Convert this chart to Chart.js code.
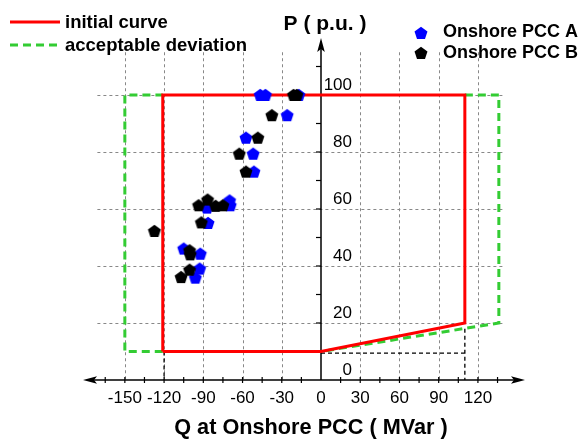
<!DOCTYPE html>
<html>
<head>
<meta charset="utf-8">
<script src="https://cdn.jsdelivr.net/npm/chart.js@4"></script>
<style>
  body { margin: 0; background: #fff; }
  #wrap { width: 584px; height: 439px; position: relative; }
</style>
</head>
<body>
<div id="wrap"><canvas id="myChart"></canvas></div>
<script>
// Onshore PCC A (blue)
const pccA_Q = [-46.5, -42.5, -17, -25.9, -57.4, -51.9, -51.3, -69.9, -69.4, -87.2, -86.4, -105, -92.3, -92.8, -96.1];
const pccA_P = [100, 100, 100, 92.9, 85, 79.4, 73.1, 63, 61.3, 60.5, 55.1, 46.1, 44.3, 39.1, 35.9];
// Onshore PCC B (black)
const pccB_Q = [-21, -18.5, -37.6, -48.3, -62.5, -57.4, -93.6, -86.7, -80.6, -75, -91.5, -127.4, -100.5, -100, -100.5, -107];
const pccB_P = [100, 100, 92.9, 85, 79.4, 73.1, 61.3, 63.3, 61.1, 61.3, 55.3, 52.3, 45.5, 44.1, 38.7, 36.1];

// curva inicial (roja)
const initialQ = [-121, -121, 110, 110, 0, -121];
const initialP = [10, 100, 100, 20, 10, 10];
// desviación aceptable (verde), dos tramos
const devLeftQ = [-121, -150, -150, -121];
const devLeftP = [10, 10, 100, 100];
const devRightQ = [110, 136, 136, 0];
const devRightP = [100, 100, 20, 10];
// líneas auxiliares negras (null = corte)
const guideQ = [0, 110, null, 110, 110, null, -120, -120];
const guideP = [9.4, 9.4, null, 18, 0, null, 10, 0];

// ejes
const xTicks = [-150, -120, -90, -60, -30, 0, 30, 60, 90, 120];
const yTicks = [0, 20, 40, 60, 80, 100];
const xGrid = [-150, -120, -90, -60, -30, 30, 60, 90, 120];
const yGrid = [20, 40, 60, 80, 100];

const FONT = '"Liberation Sans", Arial, sans-serif';

function pts(qs, ps) {
    return qs.map((q, i) => ({ x: q, y: ps[i] }));
}

function pentagon(color) {
    const c = document.createElement('canvas');
    c.width = 16; c.height = 16;
    const g = c.getContext('2d');
    const R = 6.8;
    g.fillStyle = color;
    g.beginPath();
    for (let i = 0; i < 5; i++) {
        const a = -Math.PI / 2 + i * 2 * Math.PI / 5;
        const px = 8 + R * Math.cos(a);
        const py = 8.6 + R * Math.sin(a);
        if (i === 0) g.moveTo(px, py); else g.lineTo(px, py);
    }
    g.closePath();
    g.fill();
    return c;
}

const pentBlue = pentagon('#0000ff');
const pentBlack = pentagon('#000000');

function arrow(ctx, x, y, dx, dy) {
    // punta en (x,y), dirección (dx,dy)
    const L = 14, W = 3.8;
    const bx = x - dx * L, by = y - dy * L;
    ctx.beginPath();
    ctx.moveTo(x, y);
    ctx.lineTo(bx - dy * W, by + dx * W);
    ctx.lineTo(bx + dx * 3, by + dy * 3);
    ctx.lineTo(bx + dy * W, by - dx * W);
    ctx.closePath();
    ctx.fill();
}

const framePlugin = {
    id: 'frame',
    beforeDatasetsDraw(chart) {
        const ctx = chart.ctx;
        const xs = chart.scales.x, ys = chart.scales.y;
        ctx.save();
        // rejilla
        ctx.strokeStyle = '#888';
        ctx.lineWidth = 1;
        ctx.setLineDash([3, 3]);
        xGrid.forEach(v => {
            const px = Math.round(xs.getPixelForValue(v)) + 0.5;
            ctx.beginPath();
            ctx.moveTo(px, ys.getPixelForValue(115));
            ctx.lineTo(px, ys.getPixelForValue(0));
            ctx.stroke();
        });
        yGrid.forEach(v => {
            const py = Math.round(ys.getPixelForValue(v)) + 0.5;
            ctx.beginPath();
            ctx.moveTo(xs.getPixelForValue(-171), py);
            ctx.lineTo(xs.getPixelForValue(140), py);
            ctx.stroke();
        });
        ctx.setLineDash([]);

        // ejes
        const x0 = xs.getPixelForValue(0), y0 = ys.getPixelForValue(0);
        ctx.strokeStyle = '#000';
        ctx.fillStyle = '#000';
        ctx.lineWidth = 1.5;
        ctx.beginPath();
        ctx.moveTo(xs.left + 4, y0);
        ctx.lineTo(xs.right - 4, y0);
        ctx.moveTo(x0, y0);
        ctx.lineTo(x0, ys.top + 4);
        ctx.stroke();
        arrow(ctx, xs.left, y0, -1, 0);
        arrow(ctx, xs.right, y0, 1, 0);
        arrow(ctx, x0, ys.top, 0, -1);

        // marcas eje x
        ctx.lineWidth = 1.2;
        for (let v = -165; v <= 135; v += 15) {
            if (v === 0) continue;
            const px = xs.getPixelForValue(v);
            ctx.beginPath();
            ctx.moveTo(px, y0 - 3);
            ctx.lineTo(px, y0 + 3);
            ctx.stroke();
        }
        // marcas eje y
        for (let v = 10; v <= 110; v += 10) {
            const py = ys.getPixelForValue(v);
            ctx.beginPath();
            ctx.moveTo(x0 - 5, py);
            ctx.lineTo(x0, py);
            ctx.stroke();
        }
        ctx.restore();
    },
    afterDraw(chart) {
        const ctx = chart.ctx;
        const xs = chart.scales.x, ys = chart.scales.y;
        const x0 = xs.getPixelForValue(0), y0 = ys.getPixelForValue(0);
        ctx.save();
        ctx.fillStyle = '#000';
        ctx.textBaseline = 'middle';

        // etiquetas eje x
        ctx.font = '17px ' + FONT;
        ctx.textAlign = 'center';
        xTicks.forEach(v => ctx.fillText(String(v), xs.getPixelForValue(v), y0 + 18));
        // etiquetas eje y
        ctx.textAlign = 'right';
        yTicks.forEach(v => ctx.fillText(String(v), x0 + 31, ys.getPixelForValue(v) - 10));

        // títulos
        ctx.font = 'bold 21px ' + FONT;
        ctx.textAlign = 'center';
        ctx.fillText('P ( p.u. )', 325, 24);
        ctx.font = 'bold 21.7px ' + FONT;
        ctx.fillText('Q at Onshore PCC ( MVar )', 311, 428);

        // leyenda izquierda
        ctx.font = 'bold 18.5px ' + FONT;
        ctx.textAlign = 'left';
        ctx.lineWidth = 3;
        ctx.strokeStyle = '#ff0000';
        ctx.beginPath(); ctx.moveTo(10, 22); ctx.lineTo(60, 22); ctx.stroke();
        ctx.strokeStyle = '#33cc33';
        ctx.setLineDash([8, 5]);
        ctx.beginPath(); ctx.moveTo(10, 45); ctx.lineTo(60, 45); ctx.stroke();
        ctx.setLineDash([]);
        ctx.fillText('initial curve', 65, 23);
        ctx.fillText('acceptable deviation', 65, 46);

        // leyenda derecha
        ctx.font = 'bold 18px ' + FONT;
        ctx.drawImage(pentBlue, 421 - 8, 33 - 8);
        ctx.drawImage(pentBlack, 421 - 8, 53 - 8);
        ctx.fillText('Onshore PCC A', 443, 32);
        ctx.fillText('Onshore PCC B', 443, 53);
        ctx.restore();
    }
};

const ctx = document.getElementById('myChart').getContext('2d');
const myChart = new Chart(ctx, {
    type: 'scatter',
    data: {
        datasets: [
            {
                label: 'Onshore PCC B',
                data: pts(pccB_Q, pccB_P),
                pointStyle: pentBlack,
                order: 0
            },
            {
                label: 'Onshore PCC A',
                data: pts(pccA_Q, pccA_P),
                pointStyle: pentBlue,
                order: 1
            },
            {
                label: 'initial curve',
                data: pts(initialQ, initialP),
                showLine: true,
                borderColor: '#ff0000',
                borderWidth: 3,
                pointRadius: 0,
                order: 2
            },
            {
                label: 'acceptable deviation',
                data: pts(devLeftQ, devLeftP),
                showLine: true,
                borderColor: '#33cc33',
                borderWidth: 3,
                borderDash: [8, 5],
                pointRadius: 0,
                order: 3
            },
            {
                label: 'acceptable deviation 2',
                data: pts(devRightQ, devRightP),
                showLine: true,
                borderColor: '#33cc33',
                borderWidth: 3,
                borderDash: [8, 5],
                pointRadius: 0,
                order: 3
            },
            {
                label: 'guides',
                data: pts(guideQ, guideP),
                showLine: true,
                spanGaps: false,
                borderColor: '#000',
                borderWidth: 1.3,
                borderDash: [4, 3],
                pointRadius: 0,
                order: 4
            }
        ]
    },
    options: {
        responsive: true,
        maintainAspectRatio: false,
        animation: false,
        layout: { padding: { left: 83, right: 59, top: 38, bottom: 59 } },
        plugins: {
            legend: { display: false },
            tooltip: { enabled: false }
        },
        scales: {
            x: { type: 'linear', min: -182, max: 156, display: false },
            y: { type: 'linear', min: 0, max: 120, display: false }
        }
    },
    plugins: [framePlugin]
});
</script>
</body>
</html>
